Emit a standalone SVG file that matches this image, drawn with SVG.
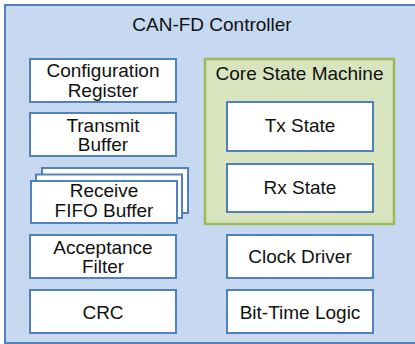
<svg xmlns="http://www.w3.org/2000/svg" width="415" height="344" viewBox="0 0 415 344">
<style>
.outer{fill:#c6d9f1;stroke:#4f81bd;stroke-width:2}
.box{fill:#ffffff;stroke:#4f81bd;stroke-width:2}
.core{fill:#d7e4bd;stroke:#9bbb59;stroke-width:2.5}
text{font-family:"Liberation Sans",Arial,sans-serif;font-size:19px;fill:#111;text-anchor:middle}
</style>
<g id="controller">
<rect class="outer" x="5" y="5" width="420" height="338"/>
<text x="212" y="31">CAN-FD Controller</text>
</g>
<g id="config-register">
<rect class="box" x="30" y="59" width="146" height="43"/>
<text x="103" y="77">Configuration</text>
<text x="103" y="96.5">Register</text>
</g>
<g id="transmit-buffer">
<rect class="box" x="30" y="113" width="146" height="43"/>
<text x="103" y="131.5">Transmit</text>
<text x="103" y="150.5">Buffer</text>
</g>
<g id="receive-fifo">
<rect class="box" x="42" y="168" width="146" height="45"/>
<rect class="box" x="36" y="174.5" width="146" height="43.5"/>
<rect class="box" x="31" y="181" width="146" height="42"/>
<text x="104" y="197">Receive</text>
<text x="104" y="216.5">FIFO Buffer</text>
</g>
<g id="acceptance-filter">
<rect class="box" x="30" y="235" width="146" height="43"/>
<text x="103" y="253.5">Acceptance</text>
<text x="103" y="273">Filter</text>
</g>
<g id="crc">
<rect class="box" x="30" y="290" width="146" height="43"/>
<text x="103" y="318.5">CRC</text>
</g>
<g id="core-state-machine">
<rect class="core" x="205" y="59" width="189" height="165"/>
<text x="299.5" y="80">Core State Machine</text>
</g>
<g id="tx-state">
<rect class="box" x="227" y="102" width="146" height="49"/>
<text x="300" y="132">Tx State</text>
</g>
<g id="rx-state">
<rect class="box" x="227" y="164" width="146" height="48"/>
<text x="300" y="193.5">Rx State</text>
</g>
<g id="clock-driver">
<rect class="box" x="227" y="235" width="146" height="43"/>
<text x="300" y="263">Clock Driver</text>
</g>
<g id="bit-time-logic">
<rect class="box" x="227" y="290" width="146" height="43"/>
<text x="300" y="318.5">Bit-Time Logic</text>
</g>
<g id="connectors"/>
</svg>
